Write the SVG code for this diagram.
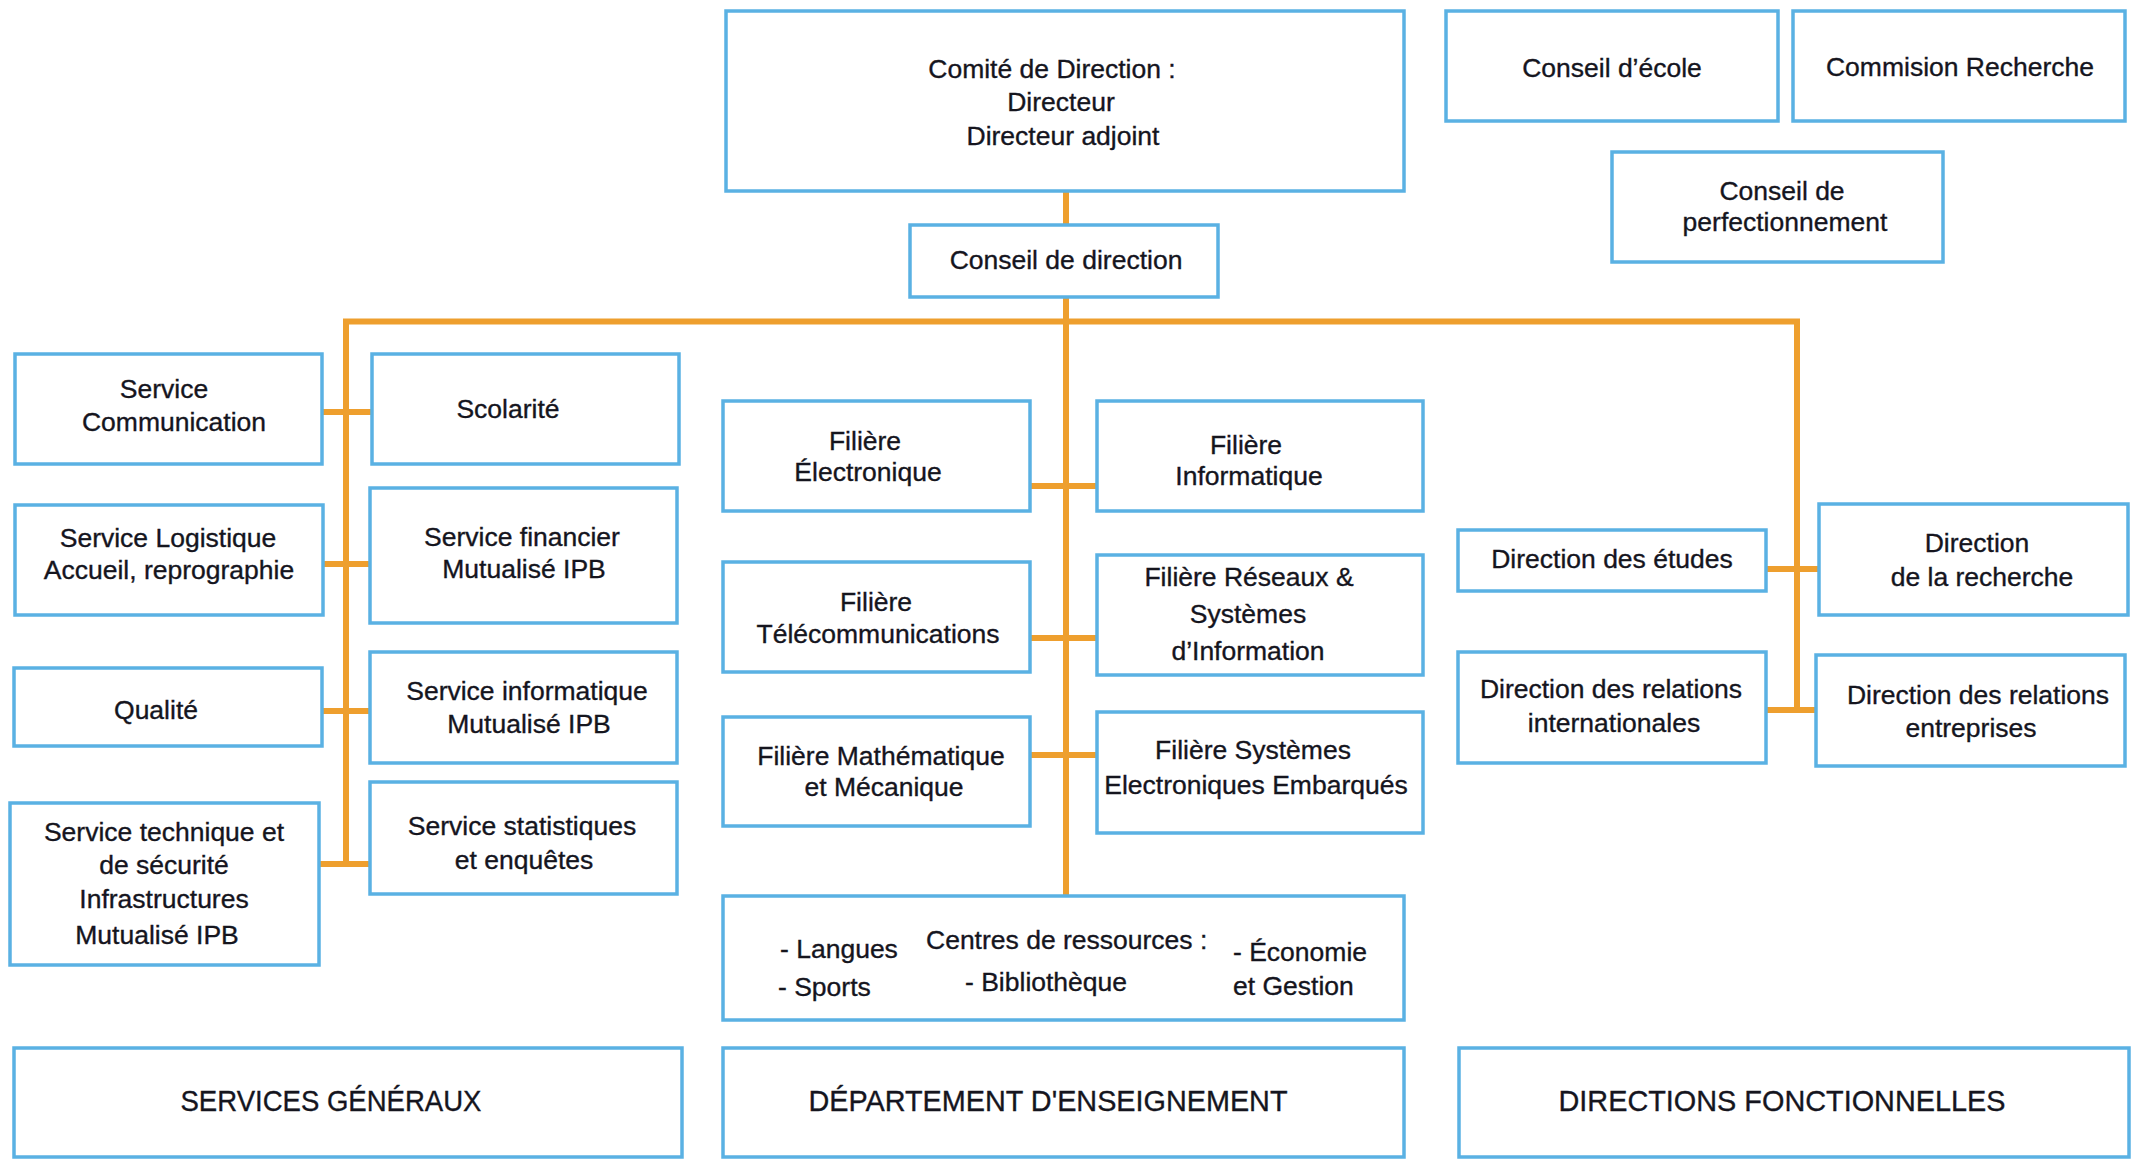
<svg xmlns="http://www.w3.org/2000/svg" width="2139" height="1160" viewBox="0 0 2139 1160">
<style>
.box{fill:#ffffff;stroke:#5ab1e3;stroke-width:3.5}
.c{fill:none;stroke:#ee9f2e;stroke-width:6;stroke-linejoin:miter;stroke-linecap:butt}
text{font-family:"Liberation Sans",Arial,sans-serif;font-size:26.5px;fill:#15151e;stroke:#15151e;stroke-width:0.35;text-anchor:middle}
.s{text-anchor:start}
.big{font-size:30px}
</style>
<rect width="2139" height="1160" fill="#ffffff"/>
<g id="connectors">
<path class="c" d="M1066 191 V225 M1066 297 V896"/>
<path class="c" d="M346 864 V321.5 H1797 V710"/>
<path class="c" d="M322 412 H372 M323 564 H370 M322 711 H370 M319 864 H370"/>
<path class="c" d="M1030 486 H1097 M1030 638 H1097 M1030 755 H1097"/>
<path class="c" d="M1766 569 H1819 M1766 710 H1816"/>
</g>
<g id="comite"><rect class="box" x="726" y="11" width="678" height="180"/><text x="1052" y="78">Comité de Direction :</text><text x="1061" y="111">Directeur</text><text x="1063" y="145">Directeur adjoint</text></g>
<g id="conseil-ecole"><rect class="box" x="1446" y="11" width="332" height="110"/><text x="1612" y="77">Conseil d’école</text></g>
<g id="commision-recherche"><rect class="box" x="1793" y="11" width="332" height="110"/><text x="1960" y="76">Commision Recherche</text></g>
<g id="conseil-perfectionnement"><rect class="box" x="1612" y="152" width="331" height="110"/><text x="1782" y="200">Conseil de</text><text x="1785" y="231">perfectionnement</text></g>
<g id="conseil-direction"><rect class="box" x="910" y="225" width="308" height="72"/><text x="1066" y="269">Conseil de direction</text></g>
<g id="service-communication"><rect class="box" x="15" y="354" width="307" height="110"/><text x="164" y="398">Service</text><text x="174" y="431">Communication</text></g>
<g id="scolarite"><rect class="box" x="372" y="354" width="307" height="110"/><text x="508" y="418">Scolarité</text></g>
<g id="filiere-electronique"><rect class="box" x="723" y="401" width="307" height="110"/><text x="865" y="450">Filière</text><text x="868" y="481">Électronique</text></g>
<g id="filiere-informatique"><rect class="box" x="1097" y="401" width="326" height="110"/><text x="1246" y="454">Filière</text><text x="1249" y="485">Informatique</text></g>
<g id="service-logistique"><rect class="box" x="15" y="505" width="308" height="110"/><text x="168" y="547">Service Logistique</text><text x="169" y="579">Accueil, reprographie</text></g>
<g id="service-financier"><rect class="box" x="370" y="488" width="307" height="135"/><text x="522" y="546">Service financier</text><text x="524" y="578">Mutualisé IPB</text></g>
<g id="direction-etudes"><rect class="box" x="1458" y="530" width="308" height="61"/><text x="1612" y="568">Direction des études</text></g>
<g id="direction-recherche"><rect class="box" x="1819" y="504" width="309" height="111"/><text x="1977" y="552">Direction</text><text x="1982" y="586">de la recherche</text></g>
<g id="filiere-telecom"><rect class="box" x="723" y="562" width="307" height="110"/><text x="876" y="611">Filière</text><text x="878" y="643">Télécommunications</text></g>
<g id="filiere-reseaux"><rect class="box" x="1097" y="555" width="326" height="120"/><text x="1249" y="586">Filière Réseaux &amp;</text><text x="1248" y="623">Systèmes</text><text x="1248" y="660">d’Information</text></g>
<g id="qualite"><rect class="box" x="14" y="668" width="308" height="78"/><text x="156" y="719">Qualité</text></g>
<g id="service-informatique"><rect class="box" x="370" y="652" width="307" height="111"/><text x="527" y="700">Service informatique</text><text x="529" y="733">Mutualisé IPB</text></g>
<g id="direction-ri"><rect class="box" x="1458" y="652" width="308" height="111"/><text x="1611" y="698">Direction des relations</text><text x="1614" y="732">internationales</text></g>
<g id="direction-re"><rect class="box" x="1816" y="655" width="309" height="111"/><text x="1978" y="704">Direction des relations</text><text x="1971" y="737">entreprises</text></g>
<g id="filiere-math"><rect class="box" x="723" y="717" width="307" height="109"/><text x="881" y="765">Filière Mathématique</text><text x="884" y="796">et Mécanique</text></g>
<g id="filiere-see"><rect class="box" x="1097" y="712" width="326" height="121"/><text x="1253" y="759">Filière Systèmes</text><text x="1256" y="794">Electroniques Embarqués</text></g>
<g id="service-technique"><rect class="box" x="10" y="803" width="309" height="162"/><text x="164" y="841">Service technique et</text><text x="164" y="874">de sécurité</text><text x="164" y="908">Infrastructures</text><text x="157" y="944">Mutualisé IPB</text></g>
<g id="service-statistiques"><rect class="box" x="370" y="782" width="307" height="112"/><text x="522" y="835">Service statistiques</text><text x="524" y="869">et enquêtes</text></g>
<g id="centres-ressources"><rect class="box" x="723" y="896" width="681" height="124"/><text class="s" x="780" y="958">- Langues</text><text class="s" x="778" y="996">- Sports</text><text class="s" x="926" y="949">Centres de ressources :</text><text class="s" x="965" y="991">- Bibliothèque</text><text class="s" x="1233" y="961">- Économie</text><text class="s" x="1233" y="995">et Gestion</text></g>
<g id="services-generaux"><rect class="box" x="14" y="1048" width="668" height="109"/><text class="big" x="331" y="1111" textLength="301" lengthAdjust="spacingAndGlyphs">SERVICES GÉNÉRAUX</text></g>
<g id="departement-enseignement"><rect class="box" x="723" y="1048" width="681" height="109"/><text class="big" x="1048" y="1111" textLength="479" lengthAdjust="spacingAndGlyphs">DÉPARTEMENT D'ENSEIGNEMENT</text></g>
<g id="directions-fonctionnelles"><rect class="box" x="1459" y="1048" width="670" height="109"/><text class="big" x="1782" y="1111" textLength="447" lengthAdjust="spacingAndGlyphs">DIRECTIONS FONCTIONNELLES</text></g>
</svg>
